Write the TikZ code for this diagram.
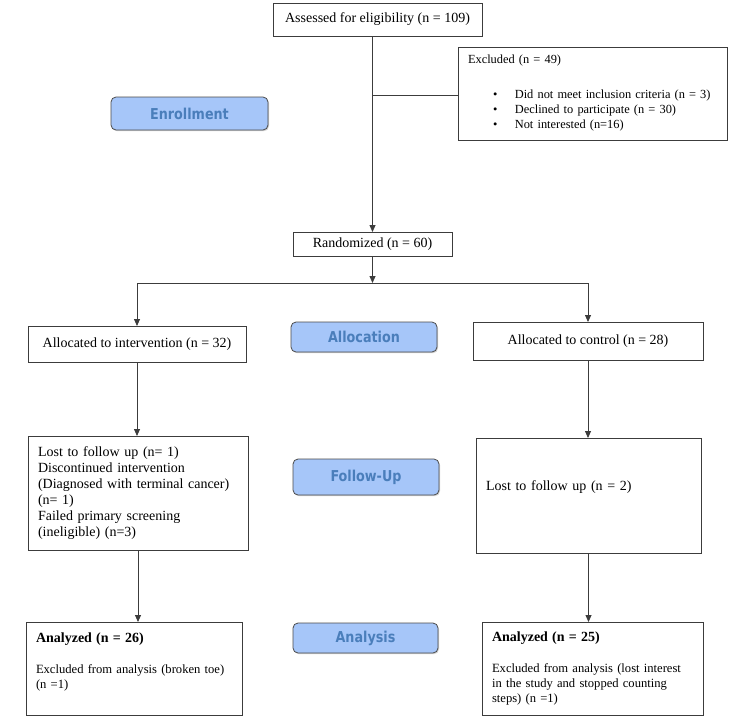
\documentclass[tikz,border=0pt]{standalone}
\usepackage{fontspec}
\setmainfont{Liberation Serif}
\newfontfamily\lblfont{DejaVu Sans}
\usetikzlibrary{arrows.meta,shadows}
\definecolor{lblfill}{HTML}{A6C6F9}
\definecolor{lbltext}{HTML}{4A7EBB}
\definecolor{lineclr}{HTML}{3C3C3C}
\newcommand{\ttl}[1]{{\fontsize{14}{15}\selectfont\bfseries #1}}
\newcommand{\lbl}[1]{\scalebox{0.85}[1]{#1}}
\begin{document}
\begin{tikzpicture}[x=1pt,y=-1pt,
  box/.style={draw=lineclr, line width=0.8pt, outer sep=0pt, inner sep=0pt, anchor=north west, font=\fontsize{14}{16}\selectfont},
  tbox/.style={box, align=left, inner xsep=10pt},
  phase/.style={draw=black!70, line width=0.8pt, fill=lblfill, rounded corners=5pt, text=lbltext, outer sep=0pt,
    font=\lblfont\bfseries\fontsize{15}{17}\selectfont,
    drop shadow={shadow xshift=1pt,shadow yshift=-1.2pt,opacity=0.35}},
  arr/.style={draw=lineclr, line width=0.8pt, -{Triangle[length=7pt,width=6pt]}},
  conn/.style={draw=lineclr, line width=0.8pt}]
\useasboundingbox[fill=white] (0,0) rectangle (751,720);

% boxes
\node[box, minimum width=209pt, minimum height=33pt] (assess) at (273,3) {Assessed for eligibility (n = 109)};
\node[tbox, text width=249pt, minimum height=93pt, font=\fontsize{12.4}{15}\selectfont] (excl) at (458,47)
  {\mbox{Excluded (n = 49)}\\[20pt]
   \mbox{\hspace*{25pt}\textbullet\hspace{17.5pt}Did not meet inclusion criteria (n = 3)}\\
   \mbox{\hspace*{25pt}\textbullet\hspace{17.5pt}Declined to participate (n = 30)}\\
   \mbox{\hspace*{25pt}\textbullet\hspace{17.5pt}Not interested (n=16)}};
\node[box, minimum width=159pt, minimum height=24pt] (rand) at (293,232) {Randomized (n = 60)};
\node[box, minimum width=218pt, minimum height=36pt] (int) at (28,326) {Allocated to intervention (n = 32)};
\node[box, minimum width=230pt, minimum height=38pt] (ctl) at (473,322) {Allocated to control (n = 28)};
\node[tbox, text width=200pt, minimum height=114pt] (lfu) at (28,436)
  {\mbox{Lost to follow up (n= 1)}\\\mbox{Discontinued intervention}\\\mbox{(Diagnosed with terminal cancer)}\\\mbox{(n= 1)}\\\mbox{Failed primary screening}\\\mbox{(ineligible) (n=3)}};
\node[tbox, text width=205pt, minimum height=115pt, text depth=20.5pt] (rfu) at (476,438) {\mbox{Lost to follow up (n = 2)}};
\node[tbox, text width=196pt, minimum height=93pt, font=\fontsize{12.6}{15}\selectfont] (lan) at (26,622)
  {\mbox{\ttl{Analyzed (n = 26)}}\\[16pt]\mbox{Excluded from analysis (broken toe)}\\\mbox{(n =1)}\\\mbox{}};
\node[tbox, text width=201pt, minimum height=93pt, font=\fontsize{12.6}{15}\selectfont] (ran) at (482,622)
  {\mbox{\ttl{Analyzed (n = 25)}}\\[16pt]\mbox{Excluded from analysis (lost interest}\\\mbox{in the study and stopped counting}\\\mbox{steps) (n =1)}};

% phase labels
\node[phase, minimum width=157pt, minimum height=33pt] (enr) at (189.5,113.5) {\lbl{Enrollment}};
\node[phase, minimum width=146pt, minimum height=30pt] (alloc) at (364,337) {\lbl{Allocation}};
\node[phase, minimum width=146pt, minimum height=36pt] (fup) at (366,477) {\lbl{Follow-Up}};
\node[phase, minimum width=145pt, minimum height=30pt] (anl) at (365.5,638) {\lbl{Analysis}};

% connectors
\coordinate (exj) at (372.5,95);
\coordinate (split) at (372.5,283);
\draw[arr] (assess.south -| rand.north) -- (rand.north);
\draw[conn] (exj) -- (exj -| excl.west);
\draw[arr] (rand.south) -- (split);
\draw[arr] (split) -| (int.north);
\draw[arr] (split) -| (ctl.north);
\draw[arr] (int.south) -- (int.south |- lfu.north);
\draw[arr] (lfu.south) -- (lfu.south |- lan.north);
\draw[arr] (ctl.south) -- (ctl.south |- rfu.north);
\draw[arr] (rfu.south) -- (rfu.south |- ran.north);
\end{tikzpicture}
\end{document}
